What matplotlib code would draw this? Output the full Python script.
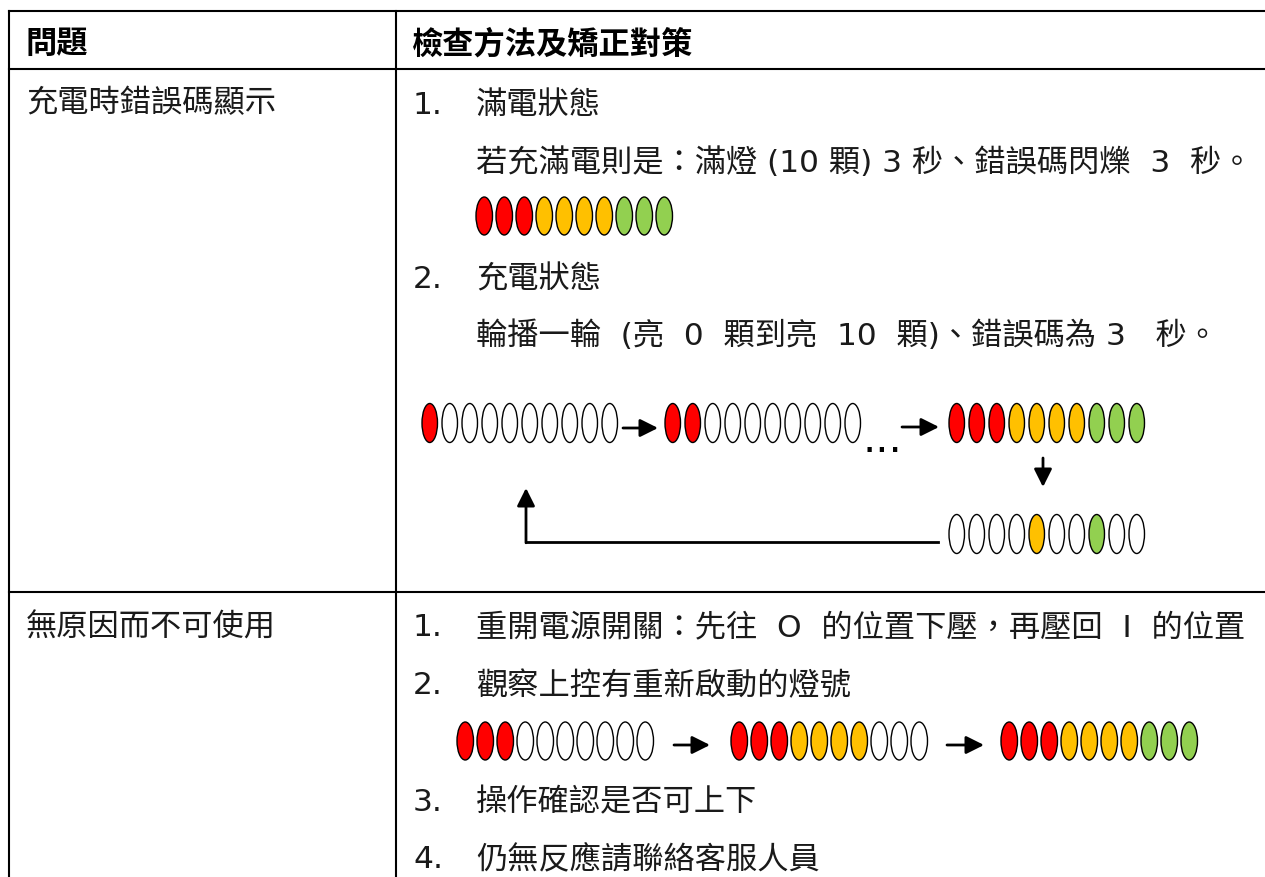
import matplotlib.pyplot as plt
from matplotlib.patches import Ellipse

# LED states: R red, Y orange, G green, W off
full_leds = "RRRYYYYGGG"
cycle_step1 = "RWWWWWWWWW"
cycle_step2 = "RRWWWWWWWW"
cycle_full = "RRRYYYYGGG"
cycle_error = "WWWWYWWGWW"
restart_1 = "RRRWWWWWWW"
restart_2 = "RRRYYYYWWW"
restart_3 = "RRRYYYYGGG"

led_colors = {"R": "#FF0000", "Y": "#FFC000", "G": "#92D050", "W": "white"}

header = ["問題", "檢查方法及矯正對策"]
problems = ["充電時錯誤碼顯示", "無原因而不可使用"]
row1_lines = [
    ("1.", "滿電狀態"),
    ("", "若充滿電則是：滿燈 (10 顆) 3 秒、錯誤碼閃爍  3  秒。"),
    ("2.", "充電狀態"),
    ("", "輪播一輪  (亮  0  顆到亮  10  顆)、錯誤碼為 3   秒。"),
]
row2_lines = [
    ("1.", "重開電源開關：先往  O  的位置下壓，再壓回  I  的位置"),
    ("2.", "觀察上控有重新啟動的燈號"),
    ("3.", "操作確認是否可上下"),
    ("4.", "仍無反應請聯絡客服人員"),
]

fam = ["DejaVu Sans", "Noto Sans CJK TC"]
txt_color = "#1a1a1a"
fs = 22.5

fig = plt.figure(figsize=(12.65, 8.78), dpi=100)
ax = fig.add_axes([0, 0, 1, 1])
ax.set_xlim(0, 1265)
ax.set_ylim(878, 0)
ax.axis("off")


def leds(ax, states, x0, yc, w=16.5, h=38, pitch=20):
    for i, s in enumerate(states):
        ax.add_patch(Ellipse((x0 + w / 2 + i * pitch, yc), w, h,
                             facecolor=led_colors[s], edgecolor="black", lw=1.0))


def arrow(ax, start, end):
    ax.annotate("", xy=end, xytext=start,
                arrowprops=dict(arrowstyle="-|>,head_length=0.6,head_width=0.3",
                                lw=2, color="black", shrinkA=0, shrinkB=0,
                                mutation_scale=18))


# table grid
lk = dict(color="black", lw=1.5)
ax.plot([9, 1265], [12, 12], **lk)
ax.plot([9, 1265], [70, 70], **lk)
ax.plot([9, 1265], [593, 593], **lk)
ax.plot([9, 9], [12, 878], **lk)
ax.plot([396, 396], [12, 878], **lk)

# header
ax.text(26, 44, header[0], fontsize=fs, fontweight="bold", family=fam,
        va="center", color="black")
ax.text(412, 44, header[1], fontsize=fs, fontweight="bold", family=fam,
        va="center", color="black")

# row 1
ax.text(26, 103, problems[0], fontsize=fs, family=fam, va="center", color=txt_color)
for (num, line), y in zip(row1_lines, [105, 163, 280, 336]):
    if num:
        ax.text(413, y, num, fontsize=fs, family=fam, va="center", color=txt_color)
    ax.text(476, y, line, fontsize=fs, family=fam, va="center", color=txt_color)

leds(ax, full_leds, 476, 217)

# charging cycle diagram
leds(ax, cycle_step1, 422, 424, w=15.5, h=39)
arrow(ax, (623, 429), (658, 429))
leds(ax, cycle_step2, 665, 424, w=15.5, h=39)
ax.text(882, 440, "...", fontsize=30, family=fam, ha="center", va="center",
        color="black")
arrow(ax, (902, 428), (939, 428))
leds(ax, cycle_full, 949, 424, w=15.5, h=39)
arrow(ax, (1043, 459), (1043, 488))
leds(ax, cycle_error, 949, 535, w=15.5, h=39)
ax.plot([938, 526], [543, 543], color="black", lw=2)
arrow(ax, (526, 543.8), (526, 489))

# row 2
ax.text(26, 628, problems[1], fontsize=fs, family=fam, va="center", color=txt_color)
for (num, line), y in zip(row2_lines, [628, 686, 803, 860]):
    ax.text(413, y, num, fontsize=fs, family=fam, va="center", color=txt_color)
    ax.text(476, y, line, fontsize=fs, family=fam, va="center", color=txt_color)

leds(ax, restart_1, 457, 742)
arrow(ax, (674, 746), (710, 746))
leds(ax, restart_2, 731, 742)
arrow(ax, (947, 746), (984, 746))
leds(ax, restart_3, 1001, 742)

fig.savefig("out.png", dpi=100, facecolor="white")
